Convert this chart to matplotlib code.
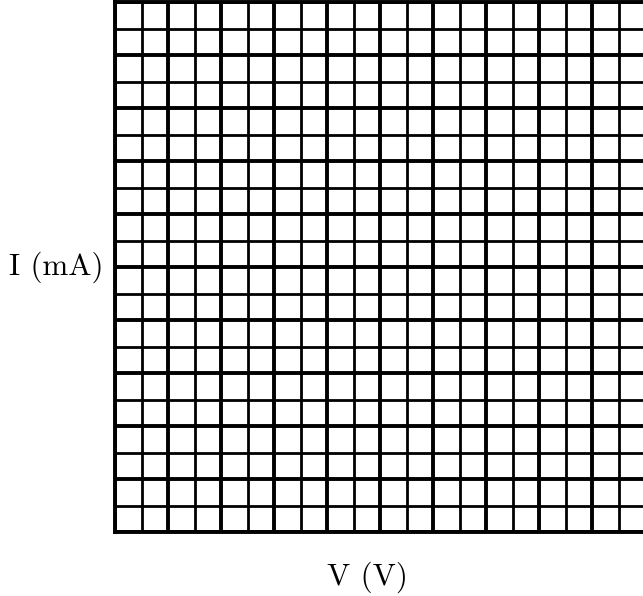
import matplotlib
matplotlib.use("Agg")
import matplotlib.pyplot as plt
import numpy as np

# Grid definition (graph paper, no data series)
v_range = [0, 10]
i_range = [0, 10]
v_major = [0, 1, 2, 3, 4, 5, 6, 7, 8, 9, 10]
i_major = [0, 1, 2, 3, 4, 5, 6, 7, 8, 9, 10]
v_minor = [0.5, 1.5, 2.5, 3.5, 4.5, 5.5, 6.5, 7.5, 8.5, 9.5]
i_minor = [0.5, 1.5, 2.5, 3.5, 4.5, 5.5, 6.5, 7.5, 8.5, 9.5]
x_label = "V (V)"
y_label = "I (mA)"

W, H = 643, 596
fig = plt.figure(figsize=(W / 100, H / 100), dpi=100)
left_px, right_px, top_px, bottom_px = 115, 645, 2, 532
ax = fig.add_axes([left_px / W, 1 - bottom_px / H,
                   (right_px - left_px) / W, (bottom_px - top_px) / H])
ax.set_xlim(*v_range)
ax.set_ylim(*i_range)
ax.set_xticks(v_major)
ax.set_yticks(i_major)
ax.set_xticks(v_minor, minor=True)
ax.set_yticks(i_minor, minor=True)
ax.tick_params(which="both", length=0, labelbottom=False, labelleft=False)
ax.grid(which="major", color="black", linewidth=2.8)
ax.grid(which="minor", color="black", linewidth=2.0)
ax.set_axisbelow(False)
for s in ax.spines.values():
    s.set_linewidth(2.8)
    s.set_color("black")

ax.text(-0.0226, 0.5, y_label, transform=ax.transAxes, ha="right", va="center",
        fontsize=22.3, family="cmr10")
ax.text(0.4755, -0.085, x_label, transform=ax.transAxes, ha="center", va="center",
        fontsize=22.3, family="cmr10")

fig.savefig("out.png", dpi=100)
